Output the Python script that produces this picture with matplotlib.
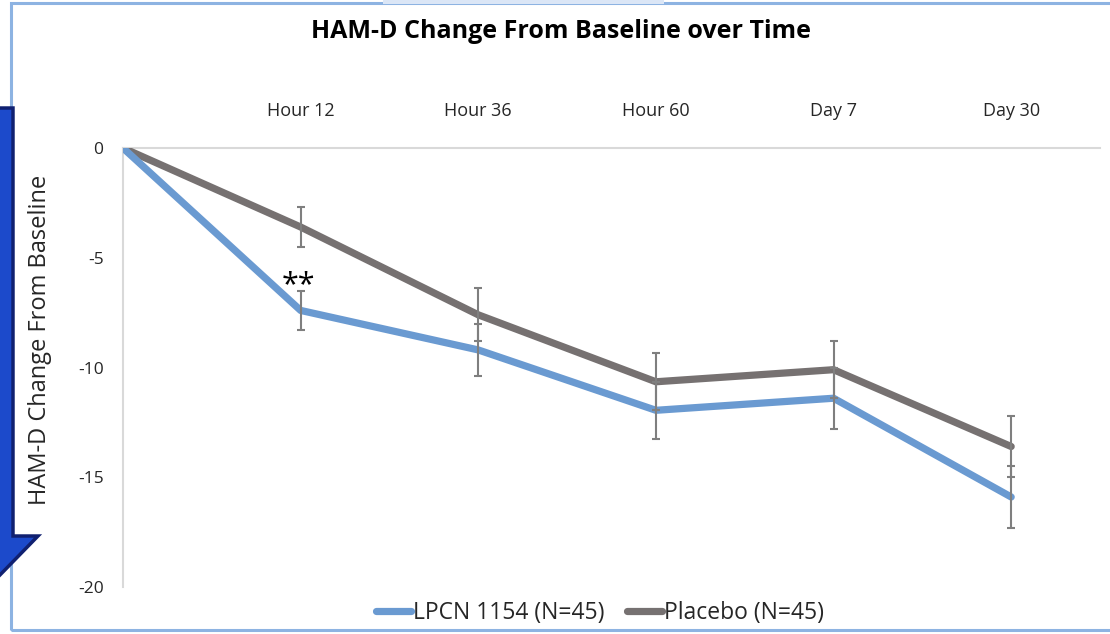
import matplotlib.pyplot as plt
from matplotlib.patches import Polygon, Rectangle
from matplotlib.lines import Line2D

plt.rcParams['font.family'] = ['Open Sans', 'DejaVu Sans']

# timepoints (baseline + 5 visits)
timepoints = ['Baseline', 'Hour 12', 'Hour 36', 'Hour 60', 'Day 7', 'Day 30']
lpcn_mean = [0, -7.4, -9.2, -11.95, -11.4, -15.9]
lpcn_err = [0, 0.9, 1.2, 1.3, 1.4, 1.4]
placebo_mean = [0, -3.6, -7.6, -10.65, -10.1, -13.6]
placebo_err = [0, 0.9, 1.2, 1.3, 1.3, 1.4]

BLUE = '#6a9ad1'
GRAY = '#767171'
ERR = '#7f7f7f'

W, H = 1110, 634
fig = plt.figure(figsize=(W / 100, H / 100), dpi=100)

# axes box in pixel terms
left, right, top, bottom = 123, 1100, 148, 587
ax = fig.add_axes([left / W, 1 - bottom / H, (right - left) / W, (bottom - top) / H])

x = list(range(len(timepoints)))
ax.plot(x, placebo_mean, color=GRAY, lw=5.2, solid_capstyle='round', zorder=3)
ax.plot(x, lpcn_mean, color=BLUE, lw=5.2, solid_capstyle='round', zorder=4)
ax.errorbar(x[1:], placebo_mean[1:], yerr=placebo_err[1:], fmt='none',
            ecolor=ERR, elinewidth=1.5, capsize=3, capthick=1.5, zorder=5)
ax.errorbar(x[1:], lpcn_mean[1:], yerr=lpcn_err[1:], fmt='none',
            ecolor=ERR, elinewidth=1.5, capsize=3, capthick=1.5, zorder=5)

# significance marker at Hour 12
ax.text(0.99, lpcn_mean[1] + 0.8, '**', ha='center', va='baseline',
        fontsize=22, color='black')

ax.set_xlim(0, 5.5)
ax.set_ylim(-20, 0)
ax.set_yticks([0, -5, -10, -15, -20])
ax.set_yticklabels(['0', '-5', '-10', '-15', '-20'])
ax.set_xticks(x[1:])
ax.set_xticklabels(timepoints[1:])
ax.xaxis.tick_top()
ax.tick_params(axis='x', length=0, pad=20, labelsize=13, colors='#262626')
ax.tick_params(axis='y', length=0, pad=14, labelsize=12.5, colors='#262626')
for s in ['bottom', 'right']:
    ax.spines[s].set_visible(False)
for s in ['top', 'left']:
    ax.spines[s].set_color('#d9d9d9')
    ax.spines[s].set_linewidth(1.5)

fig.text(561 / W, 1 - 32 / H, 'HAM-D Change From Baseline over Time',
         ha='center', va='center', fontsize=18, fontweight='bold')
fig.text(40 / W, 1 - 340 / H, 'HAM-D Change From Baseline', rotation=90,
         ha='center', va='center', fontsize=17, color='#262626')

handles = [Line2D([], [], color=BLUE, lw=5.2, solid_capstyle='round'),
           Line2D([], [], color=GRAY, lw=5.2, solid_capstyle='round')]
fig.legend(handles, ['LPCN 1154 (N=45)', 'Placebo (N=45)'], loc='center',
           bbox_to_anchor=(600 / W, 1 - 613 / H), ncol=2, frameon=False,
           fontsize=16.5, handlelength=1.5, handletextpad=0.1, columnspacing=1.0,
           borderpad=0, labelcolor='#262626')

# outer frame
fig.patches.append(Rectangle((11 / W, 1 - 630 / H), 1110 / W, 627 / H,
                             transform=fig.transFigure, fill=False,
                             edgecolor='#8db3e2', lw=2.2))
fig.patches.append(Rectangle((383 / W, 1 - 4 / H), 281 / W, 4 / H,
                             transform=fig.transFigure, color='#dbe6f6', lw=0))

# side callout
pts = [(-2, 108), (13, 108), (13, 536), (38, 536), (-2, 577)]
fig.patches.append(Polygon([(px / W, 1 - py / H) for px, py in pts], closed=True,
                           transform=fig.transFigure, facecolor='#1c4acb',
                           edgecolor='#102070', lw=2.5))

fig.savefig('out.png', dpi=100)
